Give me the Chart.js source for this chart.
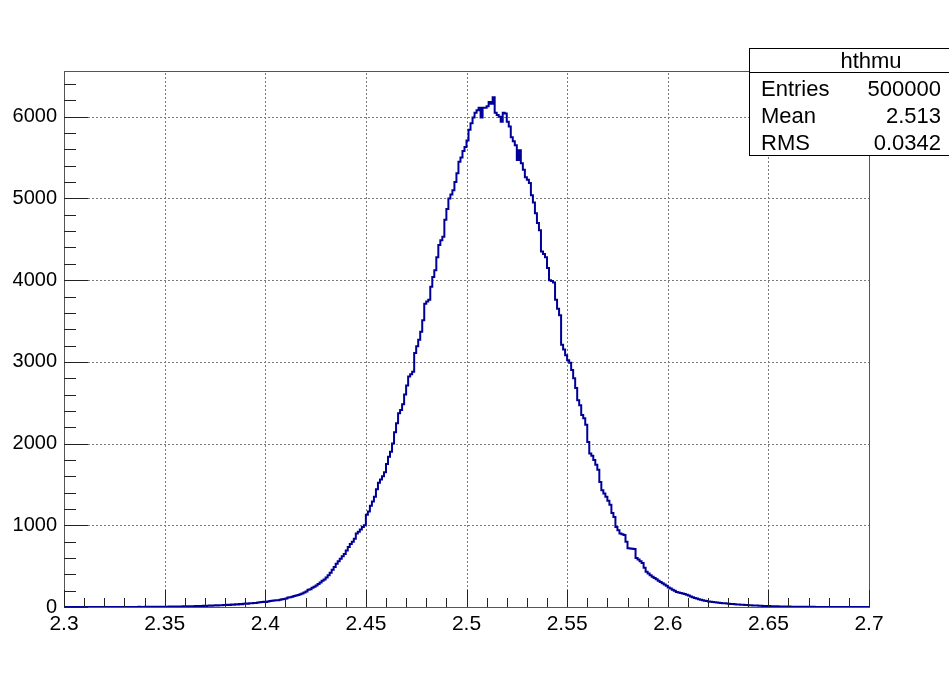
<!DOCTYPE html>
<html>
<head>
<meta charset="utf-8">
<title>hthmu</title>
<script src="https://cdn.jsdelivr.net/npm/chart.js@4.4.0/dist/chart.umd.min.js"></script>
<style>
  html, body { margin: 0; padding: 0; background: #fff; }
  #wrap { width: 949px; height: 673px; }
</style>
</head>
<body>
<div id="wrap"><canvas id="histChart" width="949" height="673"></canvas></div>
<script>
// ヒストグラム設定
const histName = "hthmu";
const binLow = 2.3;
const binWidth = 0.001;

// 軸の目盛り
const xTicks = [2.3, 2.35, 2.4, 2.45, 2.5, 2.55, 2.6, 2.65, 2.7];
const yTicks = [0, 1000, 2000, 3000, 4000, 5000, 6000];
const yMax = 6560;

// 統計ボックス
const statLabels = ["Entries", "Mean", "RMS"];
const statValues = ["500000", "2.513", "0.0342"];

// ビンの中身（400ビン、2.3〜2.7）
const counts = [
  0, 0, 0, 0, 0, 0, 0, 0, 0, 0,
  0, 0, 0, 0, 0, 0, 0, 0, 0, 1,
  0, 0, 0, 1, 0, 0, 0, 1, 0, 0,
  1, 0, 1, 0, 0, 1, 1, 0, 2, 1,
  1, 2, 1, 2, 3, 2, 1, 3, 2, 4,
  3, 4, 3, 5, 4, 6, 5, 4, 7, 6,
  8, 7, 9, 8, 10, 9, 12, 11, 13, 10,
  14, 13, 15, 17, 14, 18, 20, 19, 22, 21,
  24, 23, 27, 26, 30, 29, 33, 32, 36, 35,
  39, 42, 40, 46, 45, 50, 49, 55, 58, 60,
  64, 62, 68, 72, 75, 79, 83, 82, 90, 95,
  99, 104, 115, 118, 124, 135, 140, 147, 156, 165,
  178, 190, 210, 218, 235, 248, 262, 280, 300, 320,
  338, 360, 390, 420, 455, 490, 530, 560, 590, 620,
  650, 690, 735, 770, 800, 835, 900, 920, 950, 980,
  1000, 1130, 1170, 1240, 1290, 1350, 1440, 1520, 1560, 1600,
  1650, 1750, 1840, 1900, 2000, 2140, 2250, 2370, 2410, 2480,
  2600, 2710, 2820, 2850, 2880, 3110, 3190, 3270, 3370, 3510,
  3710, 3740, 3760, 3920, 4040, 4120, 4280, 4430, 4490, 4530,
  4740, 4870, 5000, 5050, 5100, 5200, 5310, 5450, 5500, 5580,
  5630, 5710, 5840, 5920, 5990, 6050, 6080, 6110, 5990, 6110,
  6110, 6130, 6180, 6160, 6240, 6050, 6020, 6000, 5940, 6050,
  6040, 5940, 5880, 5750, 5700, 5650, 5470, 5590, 5430, 5350,
  5260, 5230, 5190, 5040, 4950, 4820, 4700, 4610, 4350, 4320,
  4280, 4150, 4000, 3990, 3970, 3760, 3650, 3570, 3210, 3150,
  3080, 3020, 2990, 2900, 2800, 2680, 2530, 2470, 2350, 2310,
  2230, 2020, 1880, 1850, 1800, 1740, 1680, 1530, 1430, 1390,
  1350, 1300, 1250, 1150, 1100, 980, 940, 900, 890, 880,
  800, 720, 715, 712, 710, 600, 580, 560, 540, 480,
  430, 410, 390, 370, 355, 340, 320, 305, 290, 275,
  260, 240, 225, 210, 200, 185, 178, 170, 165, 160,
  150, 140, 128, 120, 110, 104, 96, 90, 84, 75,
  72, 68, 64, 60, 58, 55, 52, 50, 47, 45,
  43, 40, 38, 36, 35, 32, 30, 29, 27, 25,
  24, 22, 21, 19, 18, 17, 16, 15, 13, 12,
  12, 11, 10, 9, 9, 8, 7, 7, 6, 6,
  5, 5, 4, 4, 4, 3, 3, 3, 2, 3,
  2, 2, 1, 2, 1, 1, 1, 1, 0, 1,
  1, 0, 1, 0, 0, 1, 0, 0, 0, 0,
  0, 0, 0, 0, 0, 0, 0, 0, 0, 0
];

const FONT = "'Liberation Sans', Arial, Helvetica, sans-serif";

// ステップ用の点（ビンの下端 + 最後の上端）
const points = counts.map((c, i) => ({ x: binLow + i * binWidth, y: c }));
points.push({ x: binLow + counts.length * binWidth, y: counts[counts.length - 1] });

// ROOT風の枠・グリッド・目盛り・統計ボックス
const rootStyle = {
  id: "rootStyle",
  beforeDatasetsDraw(chart) {
    const { ctx, chartArea: a, scales: { x, y } } = chart;
    ctx.save();
    ctx.strokeStyle = "#7a7a7a";
    ctx.lineWidth = 1;
    ctx.setLineDash([2, 2]);
    xTicks.slice(1, -1).forEach((v) => {
      const px = Math.round(x.getPixelForValue(v)) + 0.5;
      ctx.beginPath();
      ctx.moveTo(px, a.bottom);
      ctx.lineTo(px, a.top);
      ctx.stroke();
    });
    yTicks.slice(1).forEach((v) => {
      const py = Math.round(y.getPixelForValue(v)) + 0.5;
      ctx.beginPath();
      ctx.moveTo(a.left, py);
      ctx.lineTo(a.right, py);
      ctx.stroke();
    });
    ctx.restore();
  },
  afterDatasetsDraw(chart) {
    const { ctx, chartArea: a, scales: { x, y } } = chart;
    ctx.save();
    // 枠
    ctx.strokeStyle = "#555";
    ctx.lineWidth = 1;
    ctx.strokeRect(Math.round(a.left) + 0.5, Math.round(a.top) + 0.5,
      Math.round(a.right - a.left), Math.round(a.bottom - a.top));
    // x目盛り（0.01刻み）
    ctx.strokeStyle = "#222";
    for (let k = 0; k <= 40; k++) {
      const v = 2.3 + k * 0.01;
      const px = Math.round(x.getPixelForValue(v)) + 0.5;
      const len = k % 5 === 0 ? 17 : 9;
      ctx.beginPath();
      ctx.moveTo(px, a.bottom);
      ctx.lineTo(px, a.bottom - len);
      ctx.stroke();
    }
    // y目盛り（200刻み）
    for (let v = 0; v <= yMax; v += 200) {
      const py = Math.round(y.getPixelForValue(v)) + 0.5;
      const len = v % 1000 === 0 ? 24 : 12;
      ctx.beginPath();
      ctx.moveTo(a.left, py);
      ctx.lineTo(a.left + len, py);
      ctx.stroke();
    }
    ctx.restore();
  },
  afterDraw(chart) {
    const { ctx } = chart;
    const bx = 749.5, by = 48.5, bw = 245, bh = 107;
    ctx.save();
    ctx.fillStyle = "#fff";
    ctx.fillRect(bx, by, bw, bh);
    ctx.strokeStyle = "#000";
    ctx.lineWidth = 1;
    ctx.strokeRect(bx, by, bw, bh);
    ctx.beginPath();
    ctx.moveTo(bx, 72.5);
    ctx.lineTo(bx + bw, 72.5);
    ctx.stroke();
    ctx.fillStyle = "#000";
    ctx.font = "22px " + FONT;
    ctx.textBaseline = "middle";
    ctx.textAlign = "center";
    ctx.fillText(histName, 871, 62);
    statLabels.forEach((lab, i) => {
      const ty = 90 + i * 27;
      ctx.textAlign = "left";
      ctx.fillText(lab, 761, ty);
      ctx.textAlign = "right";
      ctx.fillText(statValues[i], 941, ty);
    });
    ctx.restore();
  }
};

const ctx = document.getElementById("histChart").getContext("2d");
new Chart(ctx, {
  type: "line",
  data: {
    datasets: [
      {
        label: histName,
        data: points,
        stepped: "after",
        borderColor: "#000099",
        borderWidth: 2,
        pointRadius: 0,
        fill: false,
      },
    ],
  },
  options: {
    responsive: false,
    animation: false,
    layout: { padding: { top: 71, right: 80, left: 0, bottom: 0 } },
    plugins: {
      legend: { display: false },
      tooltip: { enabled: false },
    },
    scales: {
      x: {
        type: "linear",
        min: 2.3,
        max: 2.7,
        afterBuildTicks: (s) => { s.ticks = xTicks.map((v) => ({ value: v })); },
        afterFit: (s) => { s.height = 66; },
        grid: { display: false, drawTicks: false },
        border: { display: false },
        ticks: {
          padding: 5,
          maxRotation: 0,
          autoSkip: false,
          color: "#000",
          font: { family: FONT, size: 21 },
          callback: (v) => String(Math.round(v * 100) / 100),
        },
      },
      y: {
        type: "linear",
        min: 0,
        max: yMax,
        afterBuildTicks: (s) => { s.ticks = yTicks.map((v) => ({ value: v })); },
        afterFit: (s) => { s.width = 64; },
        grid: { display: false, drawTicks: false },
        border: { display: false },
        ticks: {
          padding: 7,
          autoSkip: false,
          color: "#000",
          font: { family: FONT, size: 20 },
          callback: (v) => String(v),
        },
      },
    },
  },
  plugins: [rootStyle],
});
</script>
</body>
</html>
